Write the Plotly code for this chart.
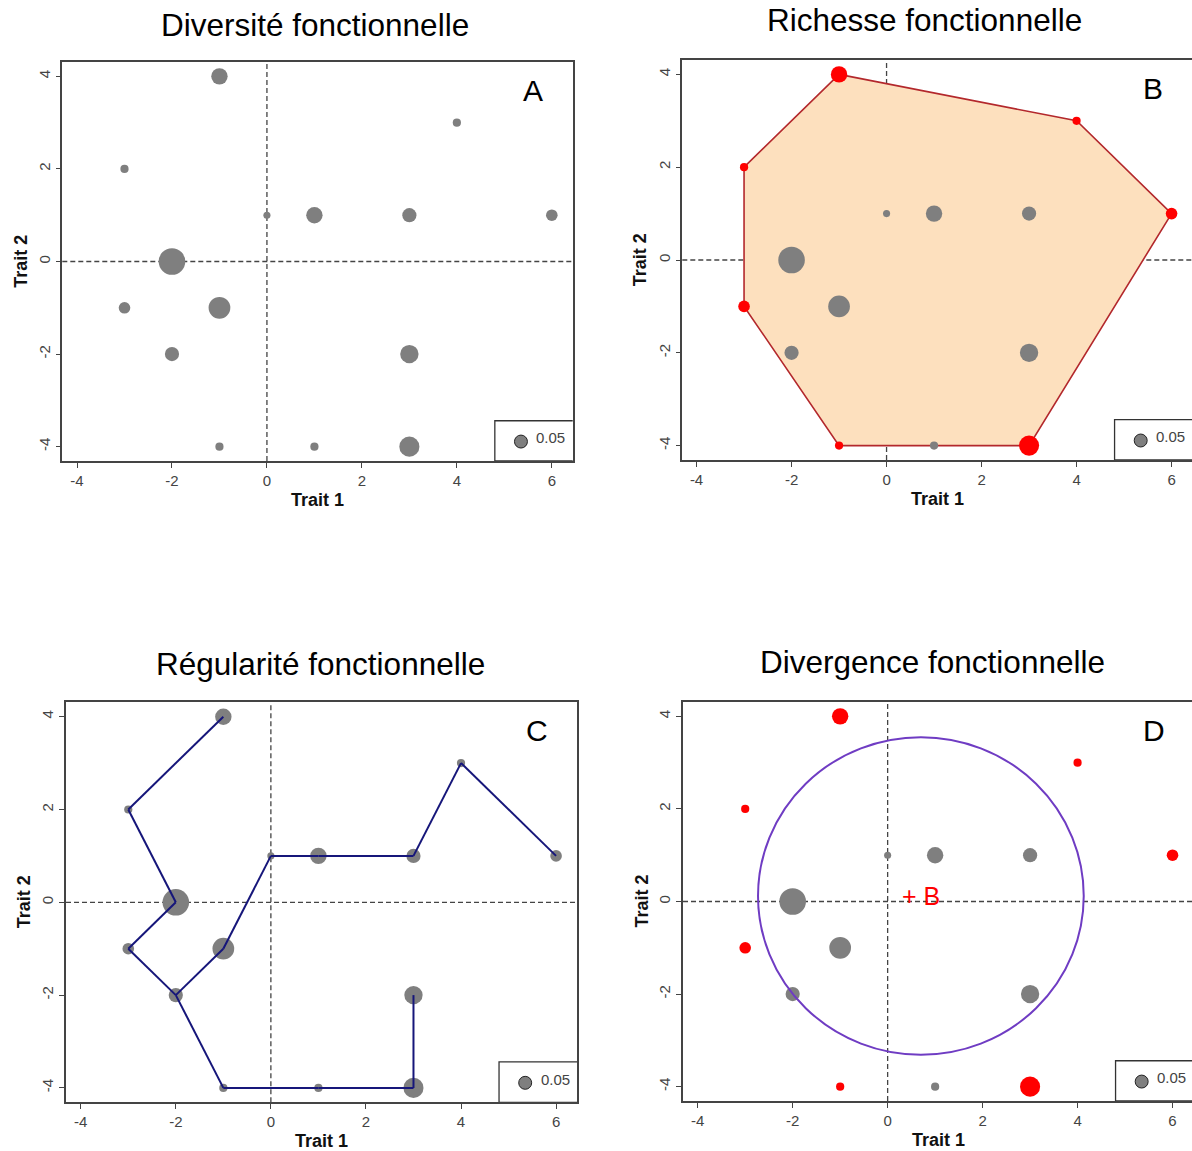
import numpy as np
import plotly.graph_objects as go

# ---------------- data ----------------
trait1 = [-1, 4, -3, 0, 1, 3, 6, -2, -3, -1, -2, 3, -1, 1, 3]
trait2 = [4, 3, 2, 1, 1, 1, 1, 0, -1, -1, -2, -2, -4, -4, -4]
abondance = [0.08, 0.02, 0.02, 0.015, 0.08, 0.06, 0.04, 0.21, 0.04, 0.14,
             0.06, 0.10, 0.02, 0.02, 0.12]
enveloppe = [0, 1, 6, 14, 12, 8, 2]          # convex hull vertices (panel B)
arbre = [(0, 2), (2, 7), (7, 8), (8, 10), (10, 9), (9, 3), (3, 4), (4, 5),
         (5, 1), (1, 6), (10, 12), (12, 13), (13, 14), (14, 11)]  # MST (panel C)
centre_gravite = (0.7, 0.12)                 # panel D
rayon_moyen = 3.43
legende_abondance = 0.05
titres = ["Diversité fonctionnelle", "Richesse fonctionnelle",
          "Régularité fonctionnelle", "Divergence fonctionnelle"]
lettres = ["A", "B", "C", "D"]
ticks_x = [-4, -2, 0, 2, 4, 6]
ticks_y = [-4, -2, 0, 2, 4]

# ---------------- layout helpers ----------------
W, H = 1192, 1151
FONT = "Liberation Sans, Arial, sans-serif"
GREY = "#7f7f7f"
RED = "#ff0000"


def fx(p):
    return p / W


def fy(p):
    return 1 - p / H


def size_of(a):
    return 58 * np.sqrt(a)


# pixel boxes: left, right, top, bottom ; title centre ; x range
panels = [
    dict(l=62.3, r=572.7, t=62, b=461, tx=315, ty=25, xr=[-4.31, 6.44], right=True),
    dict(l=682.3, r=1192, t=60, b=460, tx=924, ty=20, xr=[-4.30, 6.43], right=False),
    dict(l=66, r=577, t=702.3, b=1102.3, tx=320, ty=664, xr=[-4.31, 6.44], right=True),
    dict(l=683, r=1192, t=702, b=1101, tx=932, ty=662, xr=[-4.31, 6.41], right=False),
]
YR = [-4.31, 4.31]

fig = go.Figure()
layout = dict(width=W, height=H, margin=dict(l=0, r=0, t=0, b=0),
              paper_bgcolor="white", plot_bgcolor="white", showlegend=False,
              font=dict(family=FONT, color="#333333"))
shapes = []
annotations = []

sizes = [size_of(a) for a in abondance]
hull_set = set(enveloppe)

for i, p in enumerate(panels):
    n = "" if i == 0 else str(i + 1)
    xa, ya = "x" + n, "y" + n
    layout["xaxis" + n] = dict(
        domain=[fx(p["l"]), fx(p["r"])], range=p["xr"], anchor=ya,
        tickvals=ticks_x, ticktext=[str(v) for v in ticks_x],
        ticks="outside", ticklen=5, tickcolor="#444",
        tickfont=dict(size=15, color="#444", family=FONT),
        showline=True, linecolor="#444", linewidth=1.5, mirror=True,
        showgrid=False, zeroline=False, fixedrange=True)
    layout["yaxis" + n] = dict(
        domain=[fy(p["b"]), fy(p["t"])], range=YR, anchor=xa,
        tickvals=ticks_y, ticktext=[str(v) for v in ticks_y],
        ticks="outside", ticklen=5, tickcolor="#444",
        tickangle=-90, tickfont=dict(size=15, color="#444", family=FONT),
        showline=True, linecolor="#444", linewidth=1.5, mirror=p["right"],
        showgrid=False, zeroline=False, fixedrange=True)

    # dashed axes through 0
    dash = dict(color="#444", width=1.3, dash="5px,3px")
    shapes.append(dict(type="line", xref=xa, yref=ya + " domain", x0=0, x1=0,
                       y0=0, y1=1, line=dash, layer="below"))
    shapes.append(dict(type="line", xref=xa + " domain", yref=ya, x0=0, x1=1,
                       y0=0, y1=0, line=dash, layer="below"))

    # legend box (below the traces so its marker shows)
    shapes.append(dict(type="rect", xref=xa, yref=ya, x0=4.8, x1=p["xr"][1] + 0.2,
                       y0=YR[0], y1=-3.44,
                       line=dict(color="#333", width=1.3), fillcolor="white",
                       layer="below"))

    # panel specific
    if i == 1:
        hx = [trait1[k] for k in enveloppe] + [trait1[enveloppe[0]]]
        hy = [trait2[k] for k in enveloppe] + [trait2[enveloppe[0]]]
        fig.add_trace(go.Scatter(x=hx, y=hy, mode="lines", fill="toself",
                                 fillcolor="#fde0be",
                                 line=dict(color="#b3282c", width=1.6),
                                 xaxis=xa, yaxis=ya, hoverinfo="skip"))

    if i in (1, 3):
        colors = [RED if k in hull_set else GREY for k in range(len(trait1))]
    else:
        colors = [GREY] * len(trait1)

    fig.add_trace(go.Scatter(x=trait1, y=trait2, mode="markers",
                             marker=dict(size=sizes, color=colors, opacity=1,
                                         line=dict(width=0)),
                             xaxis=xa, yaxis=ya))

    if i == 2:
        ex, ey = [], []
        for a, b in arbre:
            ex += [trait1[a], trait1[b], None]
            ey += [trait2[a], trait2[b], None]
        fig.add_trace(go.Scatter(x=ex, y=ey, mode="lines",
                                 line=dict(color="#16167a", width=2),
                                 xaxis=xa, yaxis=ya, hoverinfo="skip"))

    if i == 3:
        cx, cy = centre_gravite
        shapes.append(dict(type="circle", xref=xa, yref=ya,
                           x0=cx - rayon_moyen, x1=cx + rayon_moyen,
                           y0=cy - rayon_moyen, y1=cy + rayon_moyen,
                           line=dict(color="#6f3cc3", width=2), layer="above"))
        annotations.append(dict(x=cx, y=cy, xref=xa, yref=ya, text="+ B",
                                showarrow=False, xanchor="center", yanchor="middle",
                                font=dict(size=25, color=RED, family=FONT)))

    fig.add_trace(go.Scatter(x=[5.35], y=[-3.89], mode="markers",
                             marker=dict(size=size_of(legende_abondance), color=GREY,
                                         opacity=1, line=dict(color="#222", width=1)),
                             xaxis=xa, yaxis=ya, hoverinfo="skip"))
    annotations.append(dict(x=5.63, y=-3.81, xref=xa, yref=ya,
                            text=f"{legende_abondance:.2f}", showarrow=False,
                            xanchor="left", yanchor="middle",
                            font=dict(size=15, color="#444", family=FONT)))

    # panel letter
    annotations.append(dict(x=5.6, y=3.7, xref=xa, yref=ya, text=lettres[i],
                            showarrow=False, xanchor="center", yanchor="middle",
                            font=dict(size=30, color="black", family=FONT)))

    # titles
    annotations.append(dict(x=fx(p["tx"]), y=fy(p["ty"]), xref="paper", yref="paper",
                            text=titres[i], showarrow=False,
                            xanchor="center", yanchor="middle",
                            font=dict(size=31.5, color="black", family=FONT)))
    # axis titles
    annotations.append(dict(x=fx(p["l"] + 255.2), y=fy(p["b"] + 39),
                            xref="paper", yref="paper", text="<b>Trait 1</b>",
                            showarrow=False, xanchor="center", yanchor="middle",
                            font=dict(size=18, color="#111", family=FONT)))
    annotations.append(dict(x=fx(p["l"] - 42), y=fy((p["t"] + p["b"]) / 2),
                            xref="paper", yref="paper", text="<b>Trait 2</b>",
                            showarrow=False, textangle=-90,
                            xanchor="center", yanchor="middle",
                            font=dict(size=18, color="#111", family=FONT)))

layout["shapes"] = shapes
layout["annotations"] = annotations
fig.update_layout(**layout)
fig.write_html("out.html", config={"displayModeBar": False},
               post_script="document.body.style.margin='0px';")
